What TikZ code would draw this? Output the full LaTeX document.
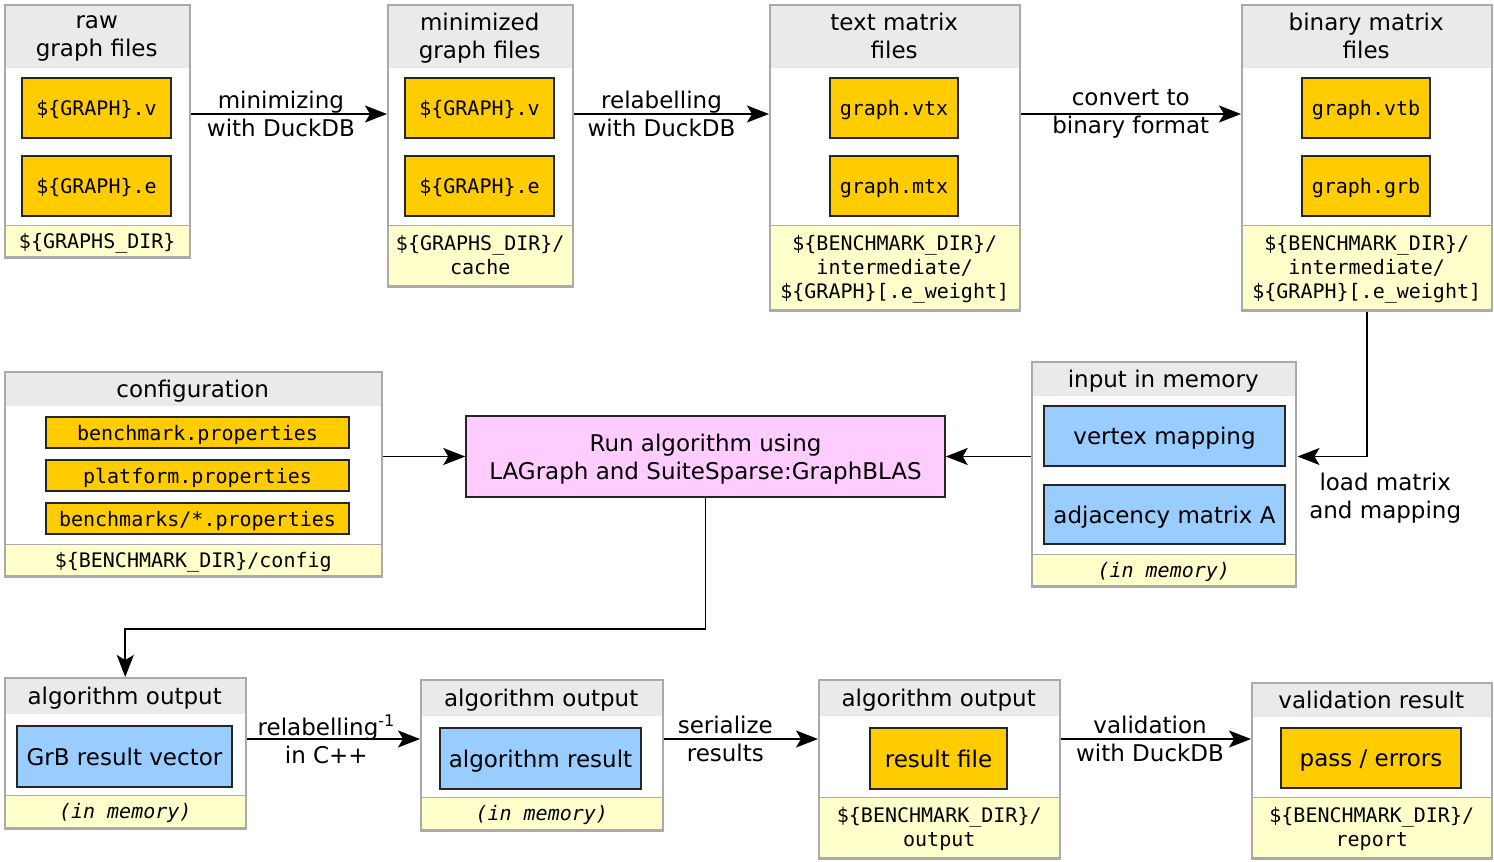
\documentclass[tikz,border=0pt]{standalone}
\usepackage{fontspec}
\setmainfont{DejaVu Sans}
\setmonofont{DejaVu Sans Mono}
\usepackage{xcolor}
\usepackage{tikz}
\usetikzlibrary{arrows.meta, positioning}
\definecolor{headgray}{HTML}{EAEAEA}
\definecolor{framegray}{HTML}{AAAAAA}
\definecolor{footyellow}{HTML}{FFFFCC}
\definecolor{fileorange}{HTML}{FFCC00}
\definecolor{memblue}{HTML}{99CCFF}
\definecolor{runpink}{HTML}{FFCCFF}
\newcommand*\Sf{\fontsize{23}{28}\selectfont}
\newcommand*\Tt{\ttfamily\fontsize{20}{24}\selectfont}
\tikzstyle{arrow} = [->, >={Stealth[length=22pt, width=17pt, inset=5pt]}, line width=1.6pt]
\tikzstyle{head} = [rectangle, fill=headgray, anchor=north west, inner sep=0, text depth=0pt, align=center, font=\Sf]
\tikzstyle{foot} = [rectangle, fill=footyellow, draw=framegray, line width=1.5pt, anchor=south west, inner sep=0, text depth=0pt, align=center, font=\Tt]
\tikzstyle{panel} = [rectangle, draw=framegray, line width=1.5pt, anchor=north west, inner sep=0]
\tikzstyle{file} = [rectangle, draw=black!85, fill=fileorange, line width=1.5pt, inner sep=0, text depth=0pt, font=\Tt]
\tikzstyle{mem} = [rectangle, draw=black!85, fill=memblue, line width=1.5pt, inner sep=0, text depth=0pt, font=\Sf]
\tikzstyle{runbox} = [rectangle, draw=black!85, fill=runpink, line width=1.5pt, inner sep=0, text depth=0pt, align=center, font=\Sf]
\tikzstyle{edgetext} = [align=center, inner sep=0, font=\Sf]

\begin{document}
\begin{tikzpicture}[x=1pt, y=-1pt]
  \useasboundingbox (0,0) rectangle (1494,862);
  \coordinate (toprow) at (0,114);
  \coordinate (botrow) at (0,739);

  % raw graph files
  \node (rawhead) [head, minimum width=185, minimum height=64] at (4,4) {raw\\graph files};
  \node (rawfoot) [foot, minimum width=185, minimum height=31] at (4,257) {\$\{GRAPHS\_DIR\}};
  \node (raw) [panel, minimum width=185, minimum height=253] at (4,4) {};
  \node (rawv) [file, minimum width=149, minimum height=60] at (96.5,108) {\$\{GRAPH\}.v};
  \node (rawe) [file, minimum width=149, minimum height=60] at (96.5,186) {\$\{GRAPH\}.e};

  % minimized graph files
  \node (minihead) [head, minimum width=185, minimum height=64] at (387,4) {minimized\\graph files};
  \node (minifoot) [foot, minimum width=185, minimum height=60] at (387,286) {\$\{GRAPHS\_DIR\}/\\cache};
  \node (mini) [panel, minimum width=185, minimum height=282] at (387,4) {};
  \node (miniv) [file, minimum width=149, minimum height=60] at (479.5,108) {\$\{GRAPH\}.v};
  \node (minie) [file, minimum width=149, minimum height=60] at (479.5,186) {\$\{GRAPH\}.e};

  % text matrix files
  \node (txthead) [head, minimum width=250, minimum height=64] at (769,4) {text matrix\\files};
  \node (txtfoot) [foot, minimum width=250, minimum height=84] at (769,310) {\$\{BENCHMARK\_DIR\}/\\intermediate/\\\$\{GRAPH\}[.e\_weight]};
  \node (txt) [panel, minimum width=250, minimum height=306] at (769,4) {};
  \node (txtvtx) [file, minimum width=128, minimum height=60] at (894,108) {graph.vtx};
  \node (txtmtx) [file, minimum width=128, minimum height=60] at (894,186) {graph.mtx};

  % binary matrix files
  \node (binhead) [head, minimum width=250, minimum height=64] at (1241,4) {binary matrix\\files};
  \node (binfoot) [foot, minimum width=250, minimum height=84] at (1241,310) {\$\{BENCHMARK\_DIR\}/\\intermediate/\\\$\{GRAPH\}[.e\_weight]};
  \node (bin) [panel, minimum width=250, minimum height=306] at (1241,4) {};
  \node (binvtb) [file, minimum width=128, minimum height=60] at (1366,108) {graph.vtb};
  \node (bingrb) [file, minimum width=128, minimum height=60] at (1366,186) {graph.grb};

  % configuration
  \node (confhead) [head, minimum width=377, minimum height=35] at (4,371) {configuration};
  \node (conffoot) [foot, minimum width=377, minimum height=31] at (4,576) {\$\{BENCHMARK\_DIR\}/config};
  \node (conf) [panel, minimum width=377, minimum height=205] at (4,371) {};
  \node (confbench) [file, minimum width=303, minimum height=31] at (197.5,432.5) {benchmark.properties};
  \node (confplat) [file, minimum width=303, minimum height=31] at (197.5,475.5) {platform.properties};
  \node (confall) [file, minimum width=303, minimum height=31] at (197.5,518.5) {benchmarks/*.properties};

  % algorithm run
  \node (run) [runbox, minimum width=479, minimum height=81] at (705.5,456.5) {Run algorithm using\\LAGraph and SuiteSparse:GraphBLAS};

  % input in memory
  \node (inphead) [head, minimum width=264, minimum height=35] at (1031,361) {input in memory};
  \node (inpfoot) [foot, minimum width=264, minimum height=31, font=\Tt\itshape] at (1031,586) {(in memory)};
  \node (inp) [panel, minimum width=264, minimum height=225] at (1031,361) {};
  \node (inpmap) [mem, minimum width=241, minimum height=60] at (1164.5,436) {vertex mapping};
  \node (inpadj) [mem, minimum width=241, minimum height=59] at (1164.5,514.5) {adjacency matrix A};

  % algorithm output: GrB vector
  \node (grbhead) [head, minimum width=241, minimum height=37] at (4,677) {algorithm output};
  \node (grbfoot) [foot, minimum width=241, minimum height=32, font=\Tt\itshape] at (4,828) {(in memory)};
  \node (grb) [panel, minimum width=241, minimum height=151] at (4,677) {};
  \node (grbvec) [mem, minimum width=215, minimum height=61] at (124.5,756.5) {GrB result vector};

  % algorithm output: result
  \node (reshead) [head, minimum width=242, minimum height=37] at (420,679) {algorithm output};
  \node (resfoot) [foot, minimum width=242, minimum height=32, font=\Tt\itshape] at (420,830) {(in memory)};
  \node (res) [panel, minimum width=242, minimum height=151] at (420,679) {};
  \node (resalg) [mem, minimum width=201, minimum height=61] at (540.5,758.5) {algorithm result};

  % algorithm output: file
  \node (outhead) [head, minimum width=241, minimum height=37] at (818,679) {algorithm output};
  \node (outfoot) [foot, minimum width=241, minimum height=60] at (818,858) {\$\{BENCHMARK\_DIR\}/\\output};
  \node (out) [panel, minimum width=241, minimum height=179] at (818,679) {};
  \node (outfile) [file, minimum width=137, minimum height=61, font=\Sf] at (938.5,758.5) {result file};

  % validation result
  \node (valhead) [head, minimum width=240, minimum height=35] at (1251,682) {validation result};
  \node (valfoot) [foot, minimum width=240, minimum height=60] at (1251,858) {\$\{BENCHMARK\_DIR\}/\\report};
  \node (val) [panel, minimum width=240, minimum height=176] at (1251,682) {};
  \node (valpass) [file, minimum width=180, minimum height=60, font=\Sf] at (1371,758) {pass / errors};

  % Arrows with labels
  \draw[arrow] (raw.east |- toprow) -- node[edgetext, pos=0.46] {minimizing\\with DuckDB} (mini.west |- toprow);
  \draw[arrow] (mini.east |- toprow) -- node[edgetext, pos=0.45] {relabelling\\with DuckDB} (txt.west |- toprow);
  \draw[arrow] (txt.east |- toprow) -- node[edgetext] {convert to\\binary format} (bin.west |- toprow);
  \draw[arrow] (bin.south) |- node[edgetext, pos=1, anchor=north west, xshift=11pt, yshift=-16pt] {load matrix\\and mapping} ([xshift=1pt]inp.east |- run.east);
  \draw[arrow] (conf.east |- run.west) -- (run.west);
  \draw[arrow] (inp.west |- run.east) -- (run.east);
  \draw[arrow] (run.south) -- ++(0,131) -| (grb.north);
  \draw[arrow] (grb.east |- botrow) -- node[edgetext, pos=0.46] {relabelling\textsuperscript{-1}\\in C++} (res.west |- botrow);
  \draw[arrow] (res.east |- botrow) -- node[edgetext, pos=0.4] {serialize\\results} (out.west |- botrow);
  \draw[arrow] (out.east |- botrow) -- node[edgetext, pos=0.47] {validation\\with DuckDB} (val.west |- botrow);

\end{tikzpicture}
\end{document}
